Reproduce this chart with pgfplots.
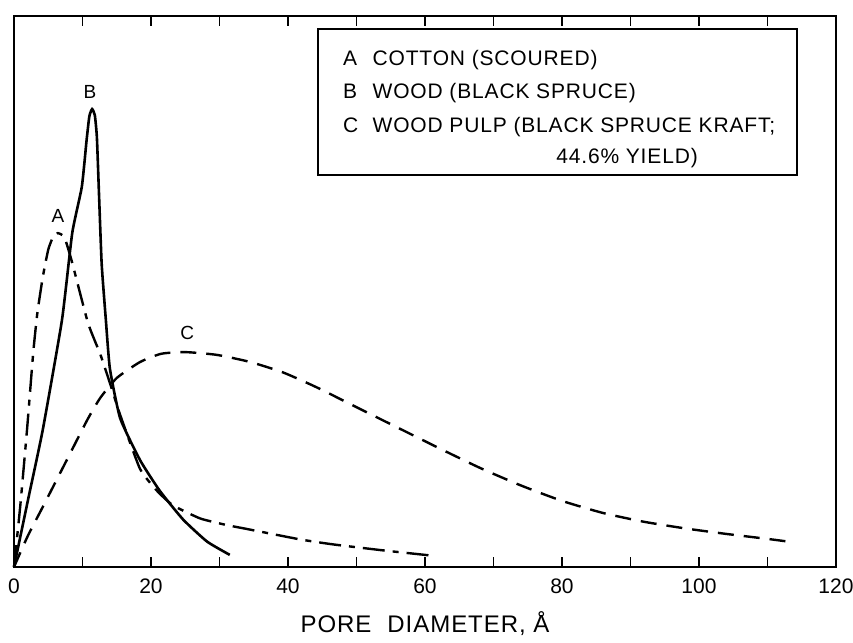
\documentclass[border=0pt]{standalone}
\usepackage{fontspec}
\setmainfont{Liberation Sans}
\usepackage{pgfplots}
\pgfplotsset{compat=1.18}
\newfontfamily\labfont[LetterSpace=4]{Liberation Sans}
\begin{document}
\begin{tikzpicture}
\begin{axis}[
  width=411pt, height=275.5pt, scale only axis,
  xmin=0, xmax=120, ymin=0, ymax=100,
  axis line style={line width=1pt},
  xtick={0,20,...,120}, minor xtick={10,30,...,110},
  ytick=\empty,
  xtick pos=both, xticklabel pos=bottom, tick align=inside,
  major tick length=5pt, minor tick length=5pt,
  every tick/.style={black, line width=0.9pt},
  xticklabel style={font=\fontsize{10.5}{12}\selectfont, inner sep=0pt, anchor=north, yshift=-5.5pt},
  /pgf/number format/assume math mode=true,
  xlabel={\labfont PORE\hspace{8pt}DIAMETER, Å},
  xlabel style={font=\fontsize{12}{14}\selectfont, at={(axis description cs:0.5,0)}, anchor=base, yshift=-33pt, inner sep=0pt},
  clip=false,
]
\coordinate (bl) at (rel axis cs:0,0);
\coordinate (tr) at (rel axis cs:1,1);
% Curve B (solid)
\addplot[black, line width=1.3pt, smooth, tension=0.3] coordinates {
(0,0) (2.1,12.5) (4.2,24.9) (7.0,44.8) (8.5,60.6) (9.9,69.0) (10.6,77.5) (11.0,81.8) (11.4,83.1) (11.8,82.0) (12.1,78.0) (12.4,68.0) (12.8,55.0) (13.4,45.0) (14.0,36.0) (15.5,27.0) (18.4,19.4) (21.3,13.8) (24.7,8.6) (28.2,4.6) (31.5,2.2)
};
% Curve A (long dash - short dash)
\addplot[black, line width=1.2pt, smooth, tension=0.3, dash pattern=on 11pt off 4pt on 3pt off 4pt] coordinates {
(0,0) (0.9,10.9) (1.9,24.9) (2.8,38.8) (3.4,46.0) (4.2,52.6) (5.0,57.6) (5.7,59.9) (6.4,60.6) (7.1,60.2) (7.6,59.0) (8.5,55.2) (10.8,44.3) (12.6,38.6) (14.0,33.4) (15.5,27.6) (18.4,17.8) (20.9,13.8) (23.2,11.2) (27.2,8.8) (31.1,7.6) (34.0,6.9) (41.8,5.0) (46.6,4.1) (54.0,3.0) (61.5,2.0)
};
% Curve C (dashed)
\addplot[black, line width=1.2pt, smooth, tension=0.35, dash pattern=on 8pt off 5pt] coordinates {
(0,0) (2.0,5.6) (4.2,10.9) (7.7,19.4) (10.7,26.7) (12.6,30.7) (15.0,34.3) (18.4,37.2) (21.5,38.7) (25.0,39.0) (29.6,38.5) (34.5,37.2) (39.3,35.3) (44.2,32.6) (50.0,29.0) (56.0,25.3) (62.0,21.6) (68.0,18.0) (74.0,14.8) (80.0,12.0) (86.0,9.8) (92.0,8.2) (98.0,7.0) (104.0,6.0) (110.0,5.1) (113.7,4.5)
};
% curve labels
\node[anchor=base, inner sep=0pt, font=\fontsize{9.5}{10}\selectfont] at (axis cs:11.1,85.1) {B};
\node[anchor=base, inner sep=0pt, font=\fontsize{9.5}{10}\selectfont] at (axis cs:6.4,62.6) {A};
\node[anchor=base, inner sep=0pt, font=\fontsize{9.5}{10}\selectfont] at (axis cs:25.3,41.2) {C};
% legend box
\draw[line width=0.9pt] (axis cs:44.4,97.6) rectangle (axis cs:114.3,71.1);
\begin{scope}[every node/.style={inner sep=0pt, font=\fontsize{10.5}{12}\selectfont\labfont}]
\node[anchor=base west] at (axis cs:48.0,91.1) {A};
\node[anchor=base west] at (axis cs:52.3,91.1) {COTTON (SCOURED)};
\node[anchor=base west] at (axis cs:48.0,85.1) {B};
\node[anchor=base west] at (axis cs:52.3,85.1) {WOOD (BLACK SPRUCE)};
\node[anchor=base west] at (axis cs:48.0,78.9) {C};
\node[anchor=base west] at (axis cs:52.3,78.9) {WOOD PULP (BLACK SPRUCE KRAFT;};
\node[anchor=base] at (axis cs:89.5,73.3) {44.6\% YIELD)};
\end{scope}
\end{axis}
\pgfresetboundingbox
\path[use as bounding box] ([shift={(-7pt,-38pt)}]bl) rectangle ([shift={(8.5pt,8pt)}]tr);
\end{tikzpicture}
\end{document}
